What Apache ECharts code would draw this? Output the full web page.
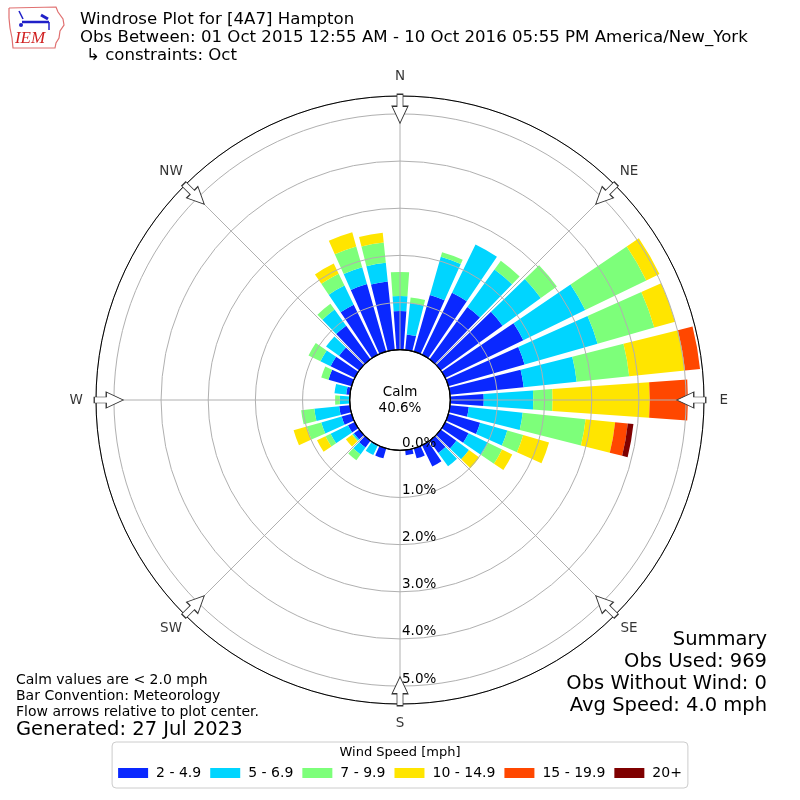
<!DOCTYPE html>
<html><head><meta charset="utf-8">
<script src="https://cdn.jsdelivr.net/npm/echarts@6/dist/echarts.min.js"></script>
<style>html,body{margin:0;padding:0;background:#fff}#c{width:800px;height:800px}</style>
</head><body><div id="c"></div>
<script>
// ---- data (percent of observations) ----
const directions = ['0','10','20','30','40','50','60','70','80','90','100','110','120','130','140','150','160','170',
                    '180','190','200','210','220','230','240','250','260','270','280','290','300','310','320','330','340','350'];
const speedBins = ['2 - 4.9','5 - 6.9','7 - 9.9','10 - 14.9','15 - 19.9','20+'];
const spd2to49   = [0.82,0.33,1.25,1.46,1.37,1.62,1.84,1.68,1.57,0.71,0.40,0.70,0.55,0.41,0.32,0.50,0.22,0.11,0,0,0.22,0.02,0.18,0.14,0.16,0.22,0.23,0,0.08,0.51,0.57,0.53,0.88,1.18,1.49,1.46];
const spd5to69   = [0.32,0.67,0.84,1.14,0.98,1.00,1.46,1.61,1.13,1.05,1.15,0.60,0.46,0.33,0.35,0,0,0,0,0,0,0.21,0.18,0.03,0.41,0.45,0.53,0.21,0.25,0,0.24,0.34,0.42,0.45,0.37,0.40];
const spd7to99   = [0.51,0.12,0.10,0,0.23,0.42,1.44,1.25,1.12,0.41,1.34,0.35,0.33,0,0,0,0,0,0,0,0,0,0.15,0.02,0.12,0.32,0.28,0.10,0,0.16,0.28,0,0.15,0.28,0.46,0.43];
const spd10to149 = [0,0,0,0,0,0,0.31,0.46,1.19,2.06,0.63,0.57,0.24,0.27,0,0,0,0,0,0,0,0,0,0.16,0.20,0.29,0,0,0,0,0,0,0,0.24,0.31,0.21];
const spd15to199 = [0,0,0,0,0,0,0,0,0.32,0.81,0.27,0,0,0,0,0,0,0,0,0,0,0,0,0,0,0,0,0,0,0,0,0,0,0,0,0];
const spd20plus  = [0,0,0,0,0,0,0,0,0,0,0.12,0,0,0,0,0,0,0,0,0,0,0,0,0,0,0,0,0,0,0,0,0,0,0,0,0];
const compassLabels = ['N','NE','E','SE','S','SW','W','NW'];
const compassAngles = [0,45,90,135,180,225,270,315];
const calmPct = '40.6%';
const radialMax = 5.38;
const radialStep = 1;

const seriesValues = [spd2to49, spd5to69, spd7to99, spd10to149, spd15to199, spd20plus];
const colors = ['#0a28ff','#00d5ff','#7dff7a','#ffe500','#ff4700','#7f0000'];
const FONT = 'DejaVu Sans';
const C = [400, 400];
const R = [50.3, 304];
const ARROW_R = 5.11;   // radial position (axis units) of the flow arrows
const LABEL_R = 5.80;   // radial position (axis units) of compass labels

const chart = echarts.init(document.getElementById('c'), null, {renderer: 'canvas'});

function txt(x, y, text, size, align, extra) {
  return {type: 'text', x: x, y: y, z: 100, silent: true,
    style: Object.assign({text: text, fill: '#000', fontSize: size, fontFamily: FONT,
            align: align, verticalAlign: 'middle', textAlign: align, textVerticalAlign: 'middle'}, extra || {})};
}

const barSeries = speedBins.map((name, i) => ({
  type: 'bar', name: name, coordinateSystem: 'polar', polarIndex: 1, stack: 'wind',
  data: seriesValues[i], barCategoryGap: '18%', z: 2,
  itemStyle: {color: colors[i]}, emphasis: {disabled: true}, silent: true
}));

const arrowSeries = {
  type: 'scatter', coordinateSystem: 'polar', polarIndex: 2, z: 6, silent: true, clip: false,
  symbol: 'path://M5,0 L11,0 L11,12 L16,12 L8,29 L0,12 L5,12 Z',
  symbolSize: [16, 29],
  itemStyle: {color: '#ffffff', borderColor: '#333333', borderWidth: 1, opacity: 1},
  data: compassAngles.map(a => ({value: [ARROW_R, a], symbolRotate: -a})),
  emphasis: {disabled: true}
};

const compassSeries = {
  type: 'scatter', coordinateSystem: 'polar', polarIndex: 2, z: 6, silent: true, clip: false,
  symbolSize: 1, itemStyle: {color: 'rgba(0,0,0,0)'},
  label: {show: true, position: 'inside', color: '#000', fontSize: 13.5, fontFamily: FONT,
          formatter: p => p.name},
  data: compassLabels.map((n, i) => ({name: n, value: [LABEL_R, compassAngles[i]]})),
  emphasis: {disabled: true}
};

const option = {
  animation: false,
  backgroundColor: '#ffffff',
  polar: [
    {center: C, radius: R},
    {center: C, radius: R},
    {center: C, radius: R},
    {center: C, radius: R[0]}
  ],
  angleAxis: [
    {polarIndex: 0, type: 'value', min: 0, max: 360, interval: 45, startAngle: -90, clockwise: true, z: 4,
     axisLine: {show: true, lineStyle: {color: '#000', width: 1}},
     axisTick: {show: false},
     splitLine: {show: true, lineStyle: {color: '#b0b0b0', width: 1}},
     axisLabel: {show: false}},
    {polarIndex: 1, type: 'category', data: directions, startAngle: 95, clockwise: true, boundaryGap: true,
     axisLine: {show: false}, axisTick: {show: false}, axisLabel: {show: false}, splitLine: {show: false}},
    {polarIndex: 2, type: 'value', min: 0, max: 360, startAngle: 90, clockwise: true,
     axisLine: {show: false}, axisTick: {show: false}, axisLabel: {show: false}, splitLine: {show: false}},
    {polarIndex: 3, type: 'value', min: 0, max: 360, startAngle: 90, clockwise: true, z: 5,
     axisLine: {show: true, lineStyle: {color: '#000', width: 1.2}}, axisTick: {show: false},
     axisLabel: {show: false}, splitLine: {show: false}}
  ],
  radiusAxis: [
    {polarIndex: 0, type: 'value', min: 0, max: radialMax, interval: radialStep, z: 4,
     axisLine: {show: false}, axisTick: {show: false},
     splitLine: {show: true, lineStyle: {color: '#b0b0b0', width: 1}},
     axisLabel: {show: true, showMaxLabel: false, margin: 2, color: '#000', fontSize: 13.5, fontFamily: FONT,
                 align: 'left', verticalAlign: 'bottom',
                 formatter: v => Math.abs(v - Math.round(v)) > 1e-6 ? '' : v.toFixed(1) + '%'}},
    {polarIndex: 1, type: 'value', min: 0, max: radialMax, axisLine: {show: false}, axisTick: {show: false}, axisLabel: {show: false}, splitLine: {show: false}},
    {polarIndex: 2, type: 'value', min: 0, max: radialMax, axisLine: {show: false}, axisTick: {show: false}, axisLabel: {show: false}, splitLine: {show: false}},
    {polarIndex: 3, type: 'value', min: 0, max: 1, axisLine: {show: false}, axisTick: {show: false}, axisLabel: {show: false}, splitLine: {show: false}}
  ],
  legend: {
    show: true, data: speedBins, left: 'center', bottom: 12, orient: 'horizontal',
    icon: 'rect', itemWidth: 30, itemHeight: 10, itemGap: 9,
    textStyle: {fontSize: 14, color: '#000', fontFamily: FONT, padding: [0, 0, 0, 3]},
    borderColor: '#cccccc', borderWidth: 1, borderRadius: 4, padding: [24, 6, 8, 6],
    selectedMode: false
  },
  series: barSeries.concat([arrowSeries, compassSeries]),
  graphic: [
    // logo
    {type: 'polyline', z: 100, silent: true,
     shape: {points: [[9,8],[56,7],[58,12],[63,19],[64,25],[60,31],[59,38],[56,43],[55,48],[13,48],[12,38],[10,28],[9,18],[9,8]]},
     style: {stroke: '#e07070', fill: 'none', lineWidth: 1.2}},
    {type: 'line', z: 100, silent: true, shape: {x1: 22, y1: 22, x2: 49, y2: 22}, style: {stroke: '#2020c8', lineWidth: 2.5}},
    {type: 'line', z: 100, silent: true, shape: {x1: 19, y1: 11, x2: 23, y2: 19}, style: {stroke: '#2020c8', lineWidth: 1.5}},
    {type: 'line', z: 100, silent: true, shape: {x1: 41, y1: 15, x2: 48, y2: 19}, style: {stroke: '#2020c8', lineWidth: 3}},
    {type: 'circle', z: 100, silent: true, shape: {cx: 21, cy: 25, r: 2}, style: {fill: '#2020c8'}},
    {type: 'line', z: 100, silent: true, shape: {x1: 49, y1: 22, x2: 49, y2: 30}, style: {stroke: '#2020c8', lineWidth: 1.5}},
    txt(30, 39, 'IEM', 17, 'center', {fill: '#d02020', fontFamily: 'Liberation Serif', fontStyle: 'italic'}),
    // title
    txt(80, 20, 'Windrose Plot for [4A7] Hampton', 16.6, 'left'),
    txt(80, 38, 'Obs Between: 01 Oct 2015 12:55 AM - 10 Oct 2016 05:55 PM America/New_York', 16.6, 'left'),
    txt(86, 56, '↳ constraints: Oct', 16.6, 'left'),
    // calm
    txt(400, 392, 'Calm', 13.5, 'center'),
    txt(400, 408, calmPct, 13.5, 'center'),
    // legend title
    txt(400, 753, 'Wind Speed [mph]', 13, 'center'),
    // bottom left
    txt(16, 680, 'Calm values are < 2.0 mph', 14, 'left'),
    txt(16, 696, 'Bar Convention: Meteorology', 14, 'left'),
    txt(16, 712, 'Flow arrows relative to plot center.', 14, 'left'),
    txt(16, 730, 'Generated: 27 Jul 2023', 19.5, 'left'),
    // summary
    txt(767, 640, 'Summary', 19.5, 'right'),
    txt(767, 662, 'Obs Used: 969', 19.5, 'right'),
    txt(767, 684, 'Obs Without Wind: 0', 19.5, 'right'),
    txt(767, 706, 'Avg Speed: 4.0 mph', 19.5, 'right')
  ]
};
chart.setOption(option);
</script>
</body></html>
